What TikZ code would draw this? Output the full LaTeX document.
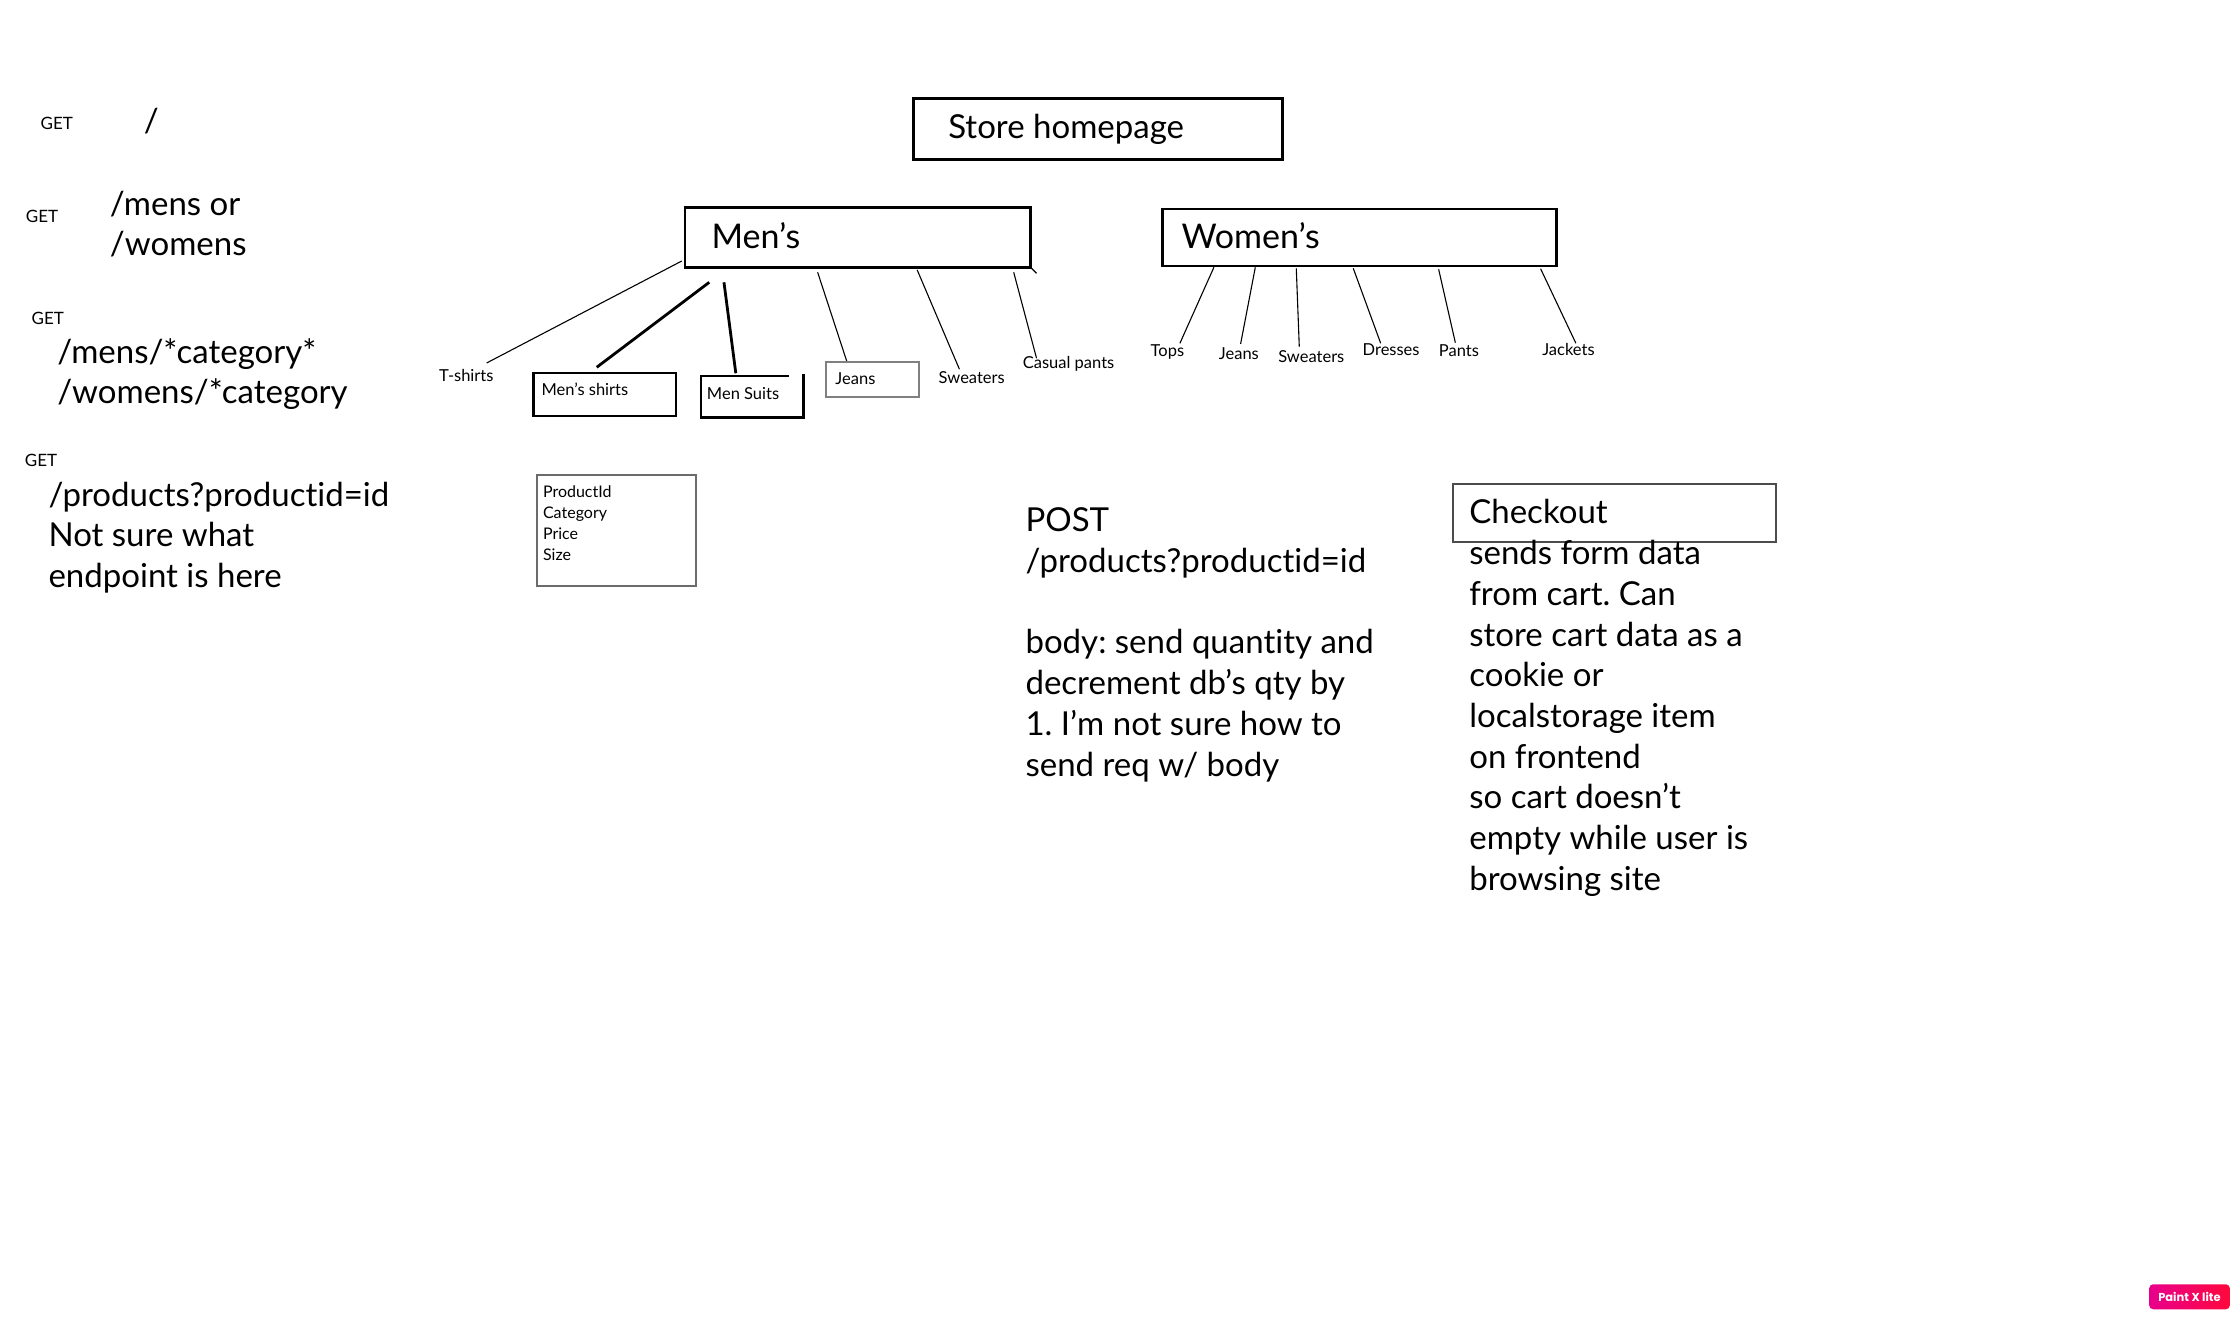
\documentclass[tikz,border=0pt]{standalone}
\usepackage{fontspec}
\setmainfont{Lato}[Ligatures=CommonOff]
\newfontfamily\badgefont{Poppins}
\definecolor{jeansgray}{gray}{0.5}
\definecolor{prodgray}{gray}{0.42}
\definecolor{checkgray}{gray}{0.3}
\definecolor{badgeL}{RGB}{232,0,140}
\definecolor{badgeR}{RGB}{255,8,60}
\frenchspacing
\begin{document}
\begin{tikzpicture}[x=1.42793pt,y=-1.42793pt,
  every node/.style={inner sep=0pt, outer sep=0pt},
  big/.style={font=\fontsize{33}{40.8}\selectfont, anchor=base west},
  head/.style={font=\fontsize{34}{40.8}\selectfont, anchor=base west},
  lbl/.style={font=\fontsize{16.5}{20.7}\selectfont, anchor=base west},
  verb/.style={font=\fontsize{17}{20}\selectfont, anchor=base west},
  frame/.style={draw, line width=2.4pt},
  grayframe/.style={draw=#1, line width=1.8pt},
  thinlink/.style={line width=1.1pt},
  thicklink/.style={line width=2.8pt},
]
\useasboundingbox (0,0) rectangle (1568,923);

% ---------------- left column: endpoints
\node[verb] (get1) at (28.5,90.8) {GET};
\node[big]  (root) at (100.8,92.5) {/};
\node[verb] (get2) at (18.2,155.8) {GET};
\node[big]  (gA) at (77,151) {/mens or};
\node[big]  (gB) at (77,179) {/womens};
\node[verb] (get3) at (22.2,227) {GET};
\node[big]  (cA) at (40.1,254.5) {/mens/*category*};
\node[big]  (cB) at (40.1,282.5) {/womens/*category};
\node[verb] (get4) at (17.5,327) {GET};
\node[big]  (pA) at (34,354.5) {/products?productid=id};
\node[big]  (pB) at (34,383) {Not sure what};
\node[big]  (pC) at (34,411.5) {endpoint is here};

% ---------------- top boxes
\draw[frame] (639.6,68.9) rectangle (898,111.6);
\node[big] (home) at (664.1,96.9) {Store homepage};
\draw[frame] (479.7,145.4) rectangle (721.7,187.2);
\node[head] (mens) at (498.3,173.9) {Men’s};
\coordinate (tickA) at (721.7,187.2);
\coordinate (tickB) at (725.9,191.4);
\draw[thinlink] (tickA) -- (tickB);
\draw[frame] (814.2,146.4) rectangle (1090.1,186.3);
\node[head] (womens) at (827.5,173.9) {Women’s};

% ---------------- men's categories
\coordinate (mt1) at (477.4,182.8); \coordinate (mt2) at (340.8,254.2);
\draw[thinlink] (mt1) -- (mt2);
\node[lbl] (tshirts) at (307.6,267.3) {T-shirts};

\coordinate (ms1) at (496.7,197.7); \coordinate (ms2) at (417.9,257.2);
\draw[thicklink] (ms1) -- (ms2);
\draw[frame] (373.5,261.4) rectangle (473.2,291.3);
\node[lbl] (shirts) at (379.3,277.3) {Men’s shirts};

\coordinate (mu1) at (507,197.7); \coordinate (mu2) at (515.3,261.4);
\draw[thicklink] (mu1) -- (mu2);
\draw[frame] (552.3,263.3) -- (490.9,263.3) -- (490.9,292.5) -- (562.6,292.5) -- (562.6,262.2);
\node[lbl] (suits) at (495.1,280.1) {Men Suits};

\coordinate (mj1) at (572.6,190.7); \coordinate (mj2) at (593.1,253.3);
\draw[thinlink] (mj1) -- (mj2);
\draw[grayframe=jeansgray] (578.4,253.3) rectangle (643.6,277.8);
\node[lbl] (mjeans) at (585.1,269) {Jeans};

\coordinate (mw1) at (642.3,189); \coordinate (mw2) at (671.9,258.6);
\draw[thinlink] (mw1) -- (mw2);
\node[lbl] (msweat) at (657.4,268.4) {Sweaters};

\coordinate (mc1) at (709.9,190.7); \coordinate (mc2) at (725.9,250.9);
\draw[thinlink] (mc1) -- (mc2);
\node[lbl] (casual) at (716.3,257.9) {Casual pants};

% ---------------- women's categories
\coordinate (wt1) at (850.1,187.2); \coordinate (wt2) at (826.3,240.4);
\draw[thinlink] (wt1) -- (wt2);
\node[lbl] (tops) at (805.8,249.8) {Tops};

\coordinate (wj1) at (879.1,187.2); \coordinate (wj2) at (868.8,240.9);
\draw[thinlink] (wj1) -- (wj2);
\node[lbl] (wjeans) at (853.6,252.1) {Jeans};

\coordinate (ws1) at (907.8,187.9); \coordinate (ws2) at (909.9,242.8);
\draw[thinlink] (ws1) -- (ws2);
\node[lbl] (wsweat) at (895.2,254) {Sweaters};

\coordinate (wd1) at (947.7,187.9); \coordinate (wd2) at (966.9,240.4);
\draw[thinlink] (wd1) -- (wd2);
\node[lbl] (dresses) at (954.3,249.1) {Dresses};

\coordinate (wp1) at (1007.5,188.6); \coordinate (wp2) at (1019.2,240);
\draw[thinlink] (wp1) -- (wp2);
\node[lbl] (pants) at (1007.7,249.8) {Pants};

\coordinate (wk1) at (1078.9,188.2); \coordinate (wk2) at (1103.6,240.4);
\draw[thinlink] (wk1) -- (wk2);
\node[lbl] (jackets) at (1080.1,249.1) {Jackets};

% ---------------- product box
\draw[grayframe=prodgray] (376.1,332.6) rectangle (487.4,410.4);
\node[lbl,font=\fontsize{16}{20}\selectfont] (f1) at (380.3,348.7) {ProductId};
\node[lbl,font=\fontsize{16}{20}\selectfont] (f2) at (380.3,363.2) {Category};
\node[lbl,font=\fontsize{16}{20}\selectfont] (f3) at (380.3,377.7) {Price};
\node[lbl,font=\fontsize{16}{20}\selectfont] (f4) at (380.3,392.2) {Size};

% ---------------- POST block
\node[big] (post1) at (718.2,372) {POST};
\node[big] (post2) at (718.2,400.6) {/products?productid=id};
\node[big] (post3) at (718.2,457.8) {body: send quantity and};
\node[big] (post4) at (718.2,486.4) {decrement db’s qty by};
\node[big] (post5) at (718.2,515) {1. I’m not sure how to};
\node[big] (post6) at (718.2,543.6) {send req w/ body};

% ---------------- checkout
\draw[grayframe=checkgray] (1017.5,339) rectangle (1244,379.3);
\node[big] (checkout) at (1029,366.5) {Checkout};
\node[big] (ck1) at (1029,395.5) {sends form data};
\node[big] (ck2) at (1029,424) {from cart. Can};
\node[big] (ck3) at (1029,452.5) {store cart data as a};
\node[big] (ck4) at (1029,481) {cookie or};
\node[big] (ck5) at (1029,509.5) {localstorage item};
\node[big] (ck6) at (1029,538) {on frontend};
\node[big] (ck7) at (1029,566.5) {so cart doesn’t};
\node[big] (ck8) at (1029,595) {empty while user is};
\node[big] (ck9) at (1029,623.5) {browsing site};

% ---------------- watermark badge
\shade[rounded corners=4pt, left color=badgeL, right color=badgeR] (1505.1,899.4) rectangle (1561.6,916.9);
\node[font={\badgefont\bfseries\fontsize{11.5}{12}\selectfont}, text=white] (badge) at (1533.3,908.4) {Paint X lite};
\end{tikzpicture}
\end{document}
